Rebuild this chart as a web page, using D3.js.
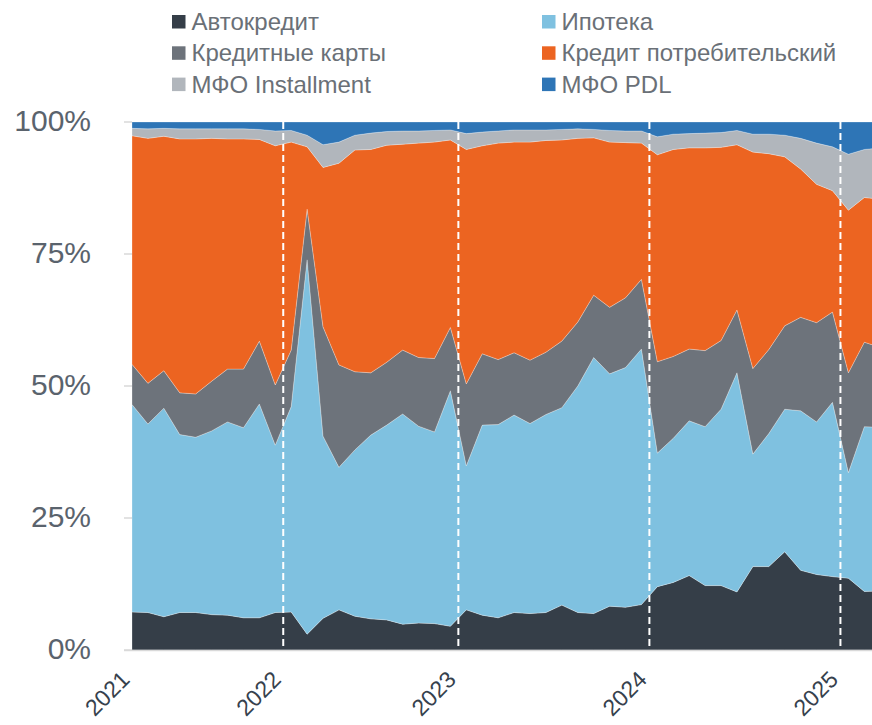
<!DOCTYPE html>
<html>
<head>
<meta charset="utf-8">
<script src="https://cdn.jsdelivr.net/npm/d3@7"></script>
<style>
  body { margin: 0; background: #fff; }
  svg { display: block; font-family: "Liberation Sans", Arial, sans-serif; }
</style>
</head>
<body>
<svg id="chart"></svg>
<script>
// Width and height
var width = 872, height = 725;

// Series names (bottom to top of the stack)
var seriesNames = ["Автокредит", "Ипотека", "Кредитные карты", "Кредит потребительский", "МФО Installment", "МФО PDL"];
var seriesColors = ["#353e48", "#7fc1e0", "#6d737b", "#ec6421", "#b1b6bc", "#2e75b6"];

// Monthly shares, %
var autoLoan = [7.2,7.1,6.3,7.1,7.1,6.7,6.6,6.1,6.1,7.1,7.2,3.0,6.0,7.6,6.4,5.9,5.7,4.9,5.1,5.0,4.5,7.6,6.6,6.1,
  7.1,6.9,7.1,8.5,7.1,6.9,8.3,8.1,8.6,12.0,12.8,14.1,12.2,12.2,11.0,15.8,15.8,18.6,15.1,14.3,13.9,13.6,11.1,11.2];
var mortgage = [39.3,35.7,39.5,33.7,33.2,34.8,36.6,36.0,40.5,31.7,38.9,70.9,34.5,27.0,31.5,34.8,36.9,39.8,37.3,36.3,44.6,27.3,36.0,36.6,
  37.4,36.0,37.5,37.4,42.9,48.5,44.0,45.4,48.4,25.3,27.3,29.3,30.1,33.4,41.5,21.3,25.2,27.0,30.2,28.9,33.0,20.0,31.2,31.0];
var creditCards = [7.6,7.7,7.1,7.9,8.2,9.4,10.0,11.1,11.9,11.4,10.7,9.6,20.7,19.4,14.8,11.8,11.9,12.1,13.0,13.9,12.0,15.5,13.5,12.3,
  11.8,12.0,11.8,12.6,12.1,11.8,12.6,13.2,13.2,17.3,15.5,13.6,14.4,13.0,11.9,16.2,15.9,15.8,17.7,18.8,17.1,18.9,16.0,15.1];
var consumerLoan = [43.3,46.4,44.4,48.1,48.3,46.0,43.6,43.6,38.2,45.3,39.4,11.8,30.2,38.2,42.0,42.3,41.1,39.0,40.6,41.0,35.5,44.4,39.4,41.0,
  39.9,41.3,40.1,38.1,34.8,29.8,31.3,29.4,25.8,39.2,39.2,38.1,38.4,36.6,31.3,41.0,37.1,32.0,28.1,26.2,23.0,30.8,27.4,28.1];
var mfoInstallment = [1.4,1.8,1.5,1.9,1.9,1.8,1.9,1.9,1.9,2.8,2.2,2.2,4.3,4.0,2.8,3.1,2.6,2.5,2.3,2.2,1.9,3.0,2.6,2.3,
  2.3,2.3,2.0,2.0,1.8,1.6,2.2,2.2,2.3,3.4,2.9,2.7,2.8,2.8,2.7,3.4,3.7,4.1,5.8,7.8,8.3,10.6,9.1,9.7];
var mfoPdl = [1.2,1.3,1.2,1.3,1.3,1.3,1.3,1.3,1.4,1.7,1.6,2.5,4.3,3.8,2.5,2.1,1.8,1.7,1.7,1.6,1.5,2.2,1.9,1.7,
  1.5,1.5,1.5,1.4,1.3,1.4,1.6,1.7,1.7,2.8,2.3,2.2,2.1,2.0,1.6,2.3,2.3,2.5,3.1,4.0,4.7,6.1,5.2,4.9];

// Year labels and where they fall on the month index axis
var yearLabels = ["2021", "2022", "2023", "2024", "2025"];
var yearPositions = [0, 9.5, 20.5, 32.5, 44.5];
var yearBreaks = [9.5, 20.5, 32.5, 44.5];

// Y ticks
var yTicks = [0, 0.25, 0.5, 0.75, 1];

var allSeries = [autoLoan, mortgage, creditCards, consumerLoan, mfoInstallment, mfoPdl];
var rows = autoLoan.map(function (d, i) {
  var row = { i: i };
  seriesNames.forEach(function (name, k) { row[name] = allSeries[k][i]; });
  return row;
});

var margin = { left: 132, top: 122, bottom: 75 };

var svg = d3.select("#chart")
  .attr("width", width)
  .attr("height", height);

var x = d3.scaleLinear()
  .domain([0, 46])
  .range([margin.left, margin.left + 46 * 15.92]);

var y = d3.scaleLinear()
  .domain([0, 1])
  .range([height - margin.bottom, margin.top]);

var stack = d3.stack()
  .keys(seriesNames)
  .offset(d3.stackOffsetExpand);

var layers = stack(rows);

var area = d3.area()
  .x(function (d) { return x(d.data.i); })
  .y0(function (d) { return y(d[0]); })
  .y1(function (d) { return y(d[1]); });

// Stacked areas
svg.append("g")
  .selectAll("path")
  .data(layers)
  .enter()
  .append("path")
  .attr("d", area)
  .attr("fill", function (d, k) { return seriesColors[k]; })
  .attr("stroke", "#ffffff")
  .attr("stroke-opacity", 0.45)
  .attr("stroke-width", 0.6);

// Year break dashed lines
svg.append("g")
  .selectAll("line")
  .data(yearBreaks)
  .enter()
  .append("line")
  .attr("x1", function (d) { return x(d); })
  .attr("x2", function (d) { return x(d); })
  .attr("y1", y(1))
  .attr("y2", y(0))
  .attr("stroke", "#ffffff")
  .attr("stroke-width", 2)
  .attr("stroke-dasharray", "7,4");

// Y axis: short ticks and labels
var yAxis = svg.append("g");
yAxis.selectAll("line")
  .data(yTicks)
  .enter()
  .append("line")
  .attr("x1", margin.left - 8)
  .attr("x2", margin.left)
  .attr("y1", function (d) { return y(d); })
  .attr("y2", function (d) { return y(d); })
  .attr("stroke", "#d9d9d9")
  .attr("stroke-width", 1.5);

yAxis.selectAll("text")
  .data(yTicks)
  .enter()
  .append("text")
  .attr("x", 91)
  .attr("y", function (d) { return y(d) + 9; })
  .attr("text-anchor", "end")
  .style("font-size", "30px")
  .style("fill", "#5a636d")
  .text(d3.format(".0%"));

// Bottom baseline
svg.append("line")
  .attr("x1", margin.left - 8)
  .attr("x2", width)
  .attr("y1", y(0) + 0.5)
  .attr("y2", y(0) + 0.5)
  .attr("stroke", "#d9d9d9")
  .attr("stroke-width", 1.5);

// X labels, rotated
svg.append("g")
  .selectAll("text")
  .data(yearLabels)
  .enter()
  .append("text")
  .attr("text-anchor", "end")
  .attr("transform", function (d, k) {
    return "translate(" + (x(yearPositions[k]) - 1) + "," + 681 + ") rotate(-45)";
  })
  .style("font-size", "23px")
  .style("fill", "#36414d")
  .text(function (d) { return d; });

// Legend, two columns
var legend = svg.append("g")
  .selectAll("g")
  .data(seriesNames)
  .enter()
  .append("g")
  .attr("transform", function (d, k) {
    var col = k % 2, row = Math.floor(k / 2);
    return "translate(" + (col === 0 ? 172 : 542) + "," + (15 + row * 31.3) + ")";
  });

legend.append("rect")
  .attr("width", 13.5)
  .attr("height", 13.5)
  .attr("fill", function (d, k) { return seriesColors[k]; });

legend.append("text")
  .attr("x", 19.5)
  .attr("y", 15)
  .style("font-size", "24px")
  .style("fill", "#6a7077")
  .text(function (d) { return d; });
</script>
</body>
</html>
